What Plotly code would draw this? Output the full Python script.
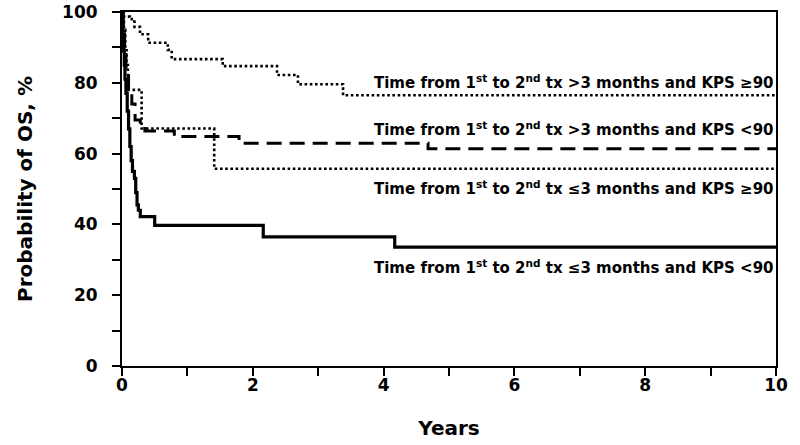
import plotly.graph_objects as go

# Kaplan-Meier curves (years, % surviving)
a_years = [0, 0.005, 0.12, 0.19, 0.275, 0.40, 0.70, 0.76, 1.54, 2.37, 2.69, 3.38, 10]
a_surv = [100, 98.7, 98.0, 95.8, 93.7, 91.3, 89.3, 86.7, 84.7, 82.2, 79.6, 76.5, 76.5]

b_years = [0, 0.02, 0.04, 0.06, 0.10, 0.15, 0.20, 0.28, 0.35, 0.80, 1.79, 4.68, 10]
b_surv = [100, 95, 88, 82, 78, 74, 69.5, 68.3, 66.4, 64.8, 62.9, 61.4, 61.4]

c_years = [0, 0.03, 0.05, 0.07, 0.09, 0.30, 1.41, 10]
c_surv = [100, 95, 90, 85, 78, 67.1, 55.7, 55.7]

d_years = [0, 0.005, 0.015, 0.025, 0.035, 0.045, 0.06, 0.08, 0.10, 0.12, 0.14,
           0.16, 0.19, 0.21, 0.23, 0.25, 0.28, 0.50, 2.16, 4.17, 10]
d_surv = [100, 97, 93, 89, 85, 81, 77, 72, 67, 62, 58,
          55, 53, 49, 45.5, 44, 42.2, 39.7, 36.5, 33.6, 33.6]

labels = [
    "Time from 1<sup>st</sup> to 2<sup>nd</sup> tx >3 months and KPS ≥90",
    "Time from 1<sup>st</sup> to 2<sup>nd</sup> tx >3 months and KPS <90",
    "Time from 1<sup>st</sup> to 2<sup>nd</sup> tx ≤3 months and KPS ≥90",
    "Time from 1<sup>st</sup> to 2<sup>nd</sup> tx ≤3 months and KPS <90",
]
label_y = [80.2, 66.9, 50.3, 28.0]

x_tickvals = list(range(0, 11))
x_ticktext = [str(v) if v % 2 == 0 else "" for v in x_tickvals]
y_tickvals = list(range(0, 101, 10))
y_ticktext = [str(v) if v % 20 == 0 else "" for v in y_tickvals]

FONT = "DejaVu Sans"

fig = go.Figure()
fig.add_trace(go.Scatter(x=a_years, y=a_surv, mode="lines", line_shape="hv",
                         line=dict(color="black", width=2.6, dash="2.6px,2.6px")))
fig.add_trace(go.Scatter(x=b_years, y=b_surv, mode="lines", line_shape="hv",
                         line=dict(color="black", width=3, dash="15px,8px")))
fig.add_trace(go.Scatter(x=c_years, y=c_surv, mode="lines", line_shape="hv",
                         line=dict(color="black", width=2.6, dash="2.6px,2.6px")))
fig.add_trace(go.Scatter(x=d_years, y=d_surv, mode="lines", line_shape="hv",
                         line=dict(color="black", width=3.2)))

for txt, yv in zip(labels, label_y):
    fig.add_annotation(text=txt, xref="paper", x=1.0, xanchor="right",
                       yref="y", y=yv, yanchor="middle", showarrow=False,
                       font=dict(family=FONT, size=15, color="black", weight="bold"))

fig.update_layout(
    width=800, height=445,
    margin=dict(l=122, r=24, t=12, b=79, autoexpand=False),
    paper_bgcolor="white", plot_bgcolor="white",
    showlegend=False,
    font=dict(family=FONT, color="black"),
)
fig.update_xaxes(
    range=[0, 10], tickvals=x_tickvals, ticktext=x_ticktext, automargin=False,
    showgrid=False, zeroline=False, showline=True, mirror=True,
    linecolor="black", linewidth=2, ticks="outside", ticklen=8, tickwidth=2,
    tickcolor="black", ticklabelstandoff=-5, ticklabeloverflow="allow",
    tickfont=dict(family=FONT, size=17, color="black", weight="bold"),
    title=dict(text="Years", font=dict(family=FONT, size=20, color="black", weight="bold"),
               standoff=27),
)
fig.update_yaxes(
    range=[0, 100], tickvals=y_tickvals, ticktext=y_ticktext, automargin=False,
    showgrid=False, zeroline=False, showline=True, mirror=True,
    linecolor="black", linewidth=2, ticks="outside", ticklen=8, tickwidth=2,
    tickcolor="black", ticklabelstandoff=11, ticklabeloverflow="allow",
    tickfont=dict(family=FONT, size=17, color="black", weight="bold"),
    title=dict(text="Probability of OS, %", font=dict(family=FONT, size=20, color="black", weight="bold"),
               standoff=24),
)

fig.write_html("out.html", config={"displayModeBar": False},
               post_script="document.body.style.margin='0';")
